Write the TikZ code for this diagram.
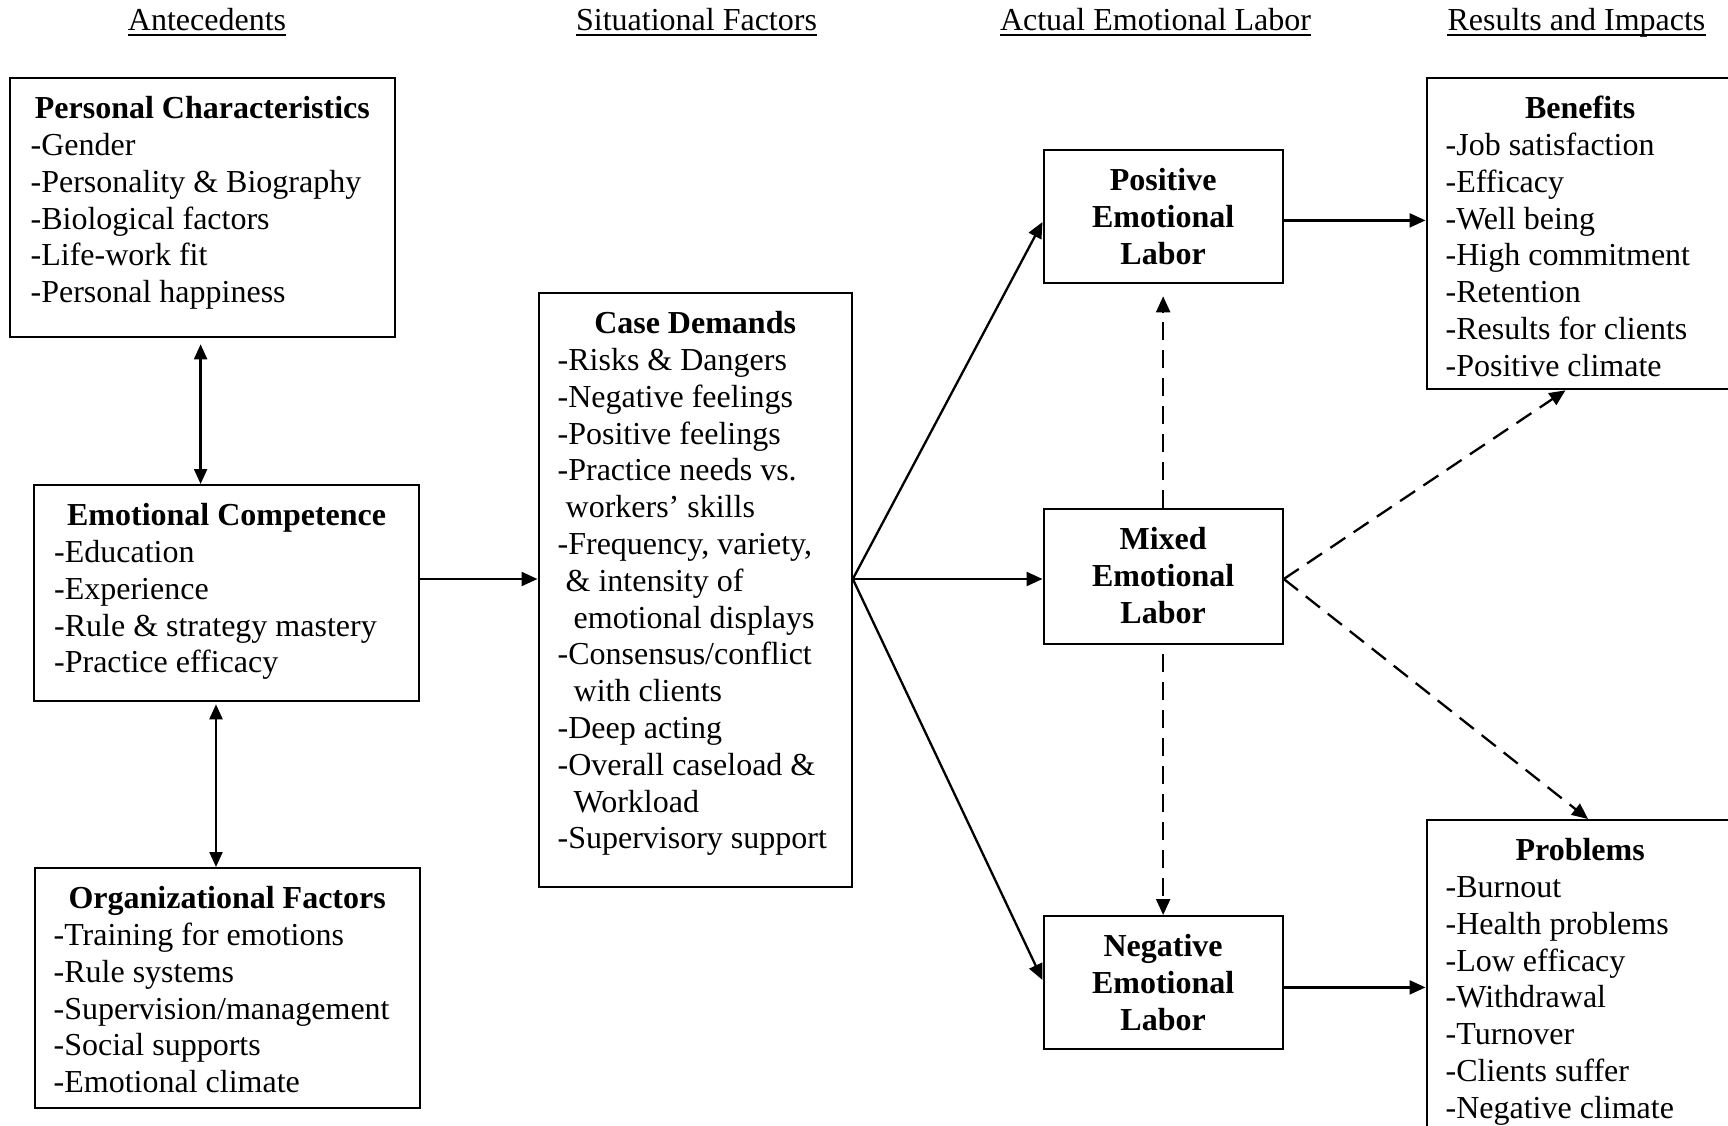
\documentclass[tikz,border=0pt]{standalone}
\usepackage{fontspec}
\setmainfont{Liberation Serif}
\usetikzlibrary{arrows.meta,calc}
\newcommand{\diabox}[5]{\parbox[c][#1][t]{#2}{\centering\bfseries\rule{0pt}{40.5pt}#4\par\mdseries\raggedright\leftskip=#3\relax #5\par}}
\newcommand{\labbox}[3]{\parbox[c][#1][t]{#2}{\centering\bfseries\rule{0pt}{40.5pt}#3\par}}
\begin{document}
\begin{tikzpicture}[x=1pt,y=-1pt,
  fnt/.style={font=\fontsize{32}{36.8}\selectfont},
  box/.style={draw, line width=2.3pt, inner sep=0pt, anchor=north west, fnt},
  hdr/.style={fnt, inner sep=0pt, anchor=base},
  uline/.style={line width=2pt},
  arr/.style={line width=2.3pt, -{Triangle[length=16pt,width=14pt]}},
  dbl/.style={line width=2.3pt, {Triangle[length=15pt,width=13pt]}-{Triangle[length=15pt,width=13pt]}},
  dsh/.style={arr, dash pattern=on 18pt off 10pt}]
\useasboundingbox (0,0) rectangle (1728,1126);
\clip (0,0) rectangle (1728,1126);

% headers
\node[hdr] (h1) at (207,31) {Antecedents};
\node[hdr] (h2) at (696.5,31) {Situational Factors};
\node[hdr] (h3) at (1155.5,31) {Actual Emotional Labor};
\node[hdr] (h4) at (1576.5,31) {Results and Impacts};
\foreach \h in {h1,h2,h3,h4}
  \draw[uline] ([yshift=-4.5pt]\h.base west) -- ([yshift=-4.5pt]\h.base east);

% boxes
\node[box] (pc) at (8.5,77) {\diabox{259pt}{385.5pt}{21pt}{Personal Characteristics}{%
-Gender\\-Personality \& Biography\\-Biological factors\\-Life-work fit\\-Personal happiness}};
\node[box] (ec) at (33,484) {\diabox{216pt}{385pt}{20pt}{Emotional Competence}{%
-Education\\-Experience\\-Rule \& strategy mastery\\-Practice efficacy}};
\node[box] (of) at (33.5,867) {\diabox{240pt}{385pt}{19pt}{Organizational Factors}{%
-Training for emotions\\-Rule systems\\-Supervision/management\\-Social supports\\-Emotional climate}};
\node[box] (cd) at (537.5,292) {\diabox{594pt}{313pt}{19pt}{Case Demands}{%
-Risks \& Dangers\\-Negative feelings\\-Positive feelings\\-Practice needs vs.\\
\hspace*{8pt}workers’ skills\\-Frequency, variety,\\\hspace*{8pt}\& intensity of\\
\hspace*{16pt}emotional displays\\-Consensus/conflict\\\hspace*{16pt}with clients\\
-Deep acting\\-Overall caseload \&\\\hspace*{16pt}Workload\\-Supervisory support}};
\node[box] (pel) at (1042.5,149) {\labbox{133pt}{239pt}{Positive\\Emotional\\Labor}};
\node[box] (mel) at (1042.5,508) {\labbox{134.5pt}{239pt}{Mixed\\Emotional\\Labor}};
\node[box] (nel) at (1042.5,915) {\labbox{133pt}{239pt}{Negative\\Emotional\\Labor}};
\node[box] (ben) at (1425.5,77) {\diabox{311pt}{307pt}{19pt}{Benefits}{%
-Job satisfaction\\-Efficacy\\-Well being\\-High commitment\\-Retention\\-Results for clients\\-Positive climate}};
\node[box] (pro) at (1425.5,819) {\diabox{330pt}{307pt}{19pt}{Problems}{%
-Burnout\\-Health problems\\-Low efficacy\\-Withdrawal\\-Turnover\\-Clients suffer\\-Negative climate}};

% helper coordinates
\coordinate (xa) at (200.6,0);
\coordinate (xb) at (216,0);
\coordinate (ymid) at (0,579);
\coordinate (ypos) at (0,222);
\coordinate (yneg) at (0,980);
\coordinate (yben) at (0,220.4);
\coordinate (ypro) at (0,987.4);
\coordinate (hub) at (cd.east |- ymid);
\coordinate (mhub) at (mel.east |- ymid);
\coordinate (bent) at ($(ben.south west)+(140,0)$);
\coordinate (prot) at ($(pro.north west)+(162.5,0)$);

% connectors
\draw[dbl] ([yshift=-6pt]xa |- pc.south) -- (xa |- ec.north);
\draw[dbl] ([yshift=-2pt]xb |- ec.south) -- (xb |- of.north);
\draw[arr] (ymid -| ec.east) -- (ymid -| cd.west);
\draw[arr] (hub) -- (pel.west |- ypos);
\draw[arr] (hub) -- (mel.west |- ymid);
\draw[arr] (hub) -- (nel.west |- yneg);
\draw[dsh, shorten >=12pt] (mel.north) -- (pel.south);
\draw[dsh, shorten <=9pt] (mel.south) -- (nel.north);
\draw[arr] (pel.east |- yben) -- (ben.west |- yben);
\draw[arr] (nel.east |- ypro) -- (pro.west |- ypro);
\draw[dsh] (mhub) -- (bent);
\draw[dsh] (mhub) -- (prot);
\end{tikzpicture}
\end{document}
